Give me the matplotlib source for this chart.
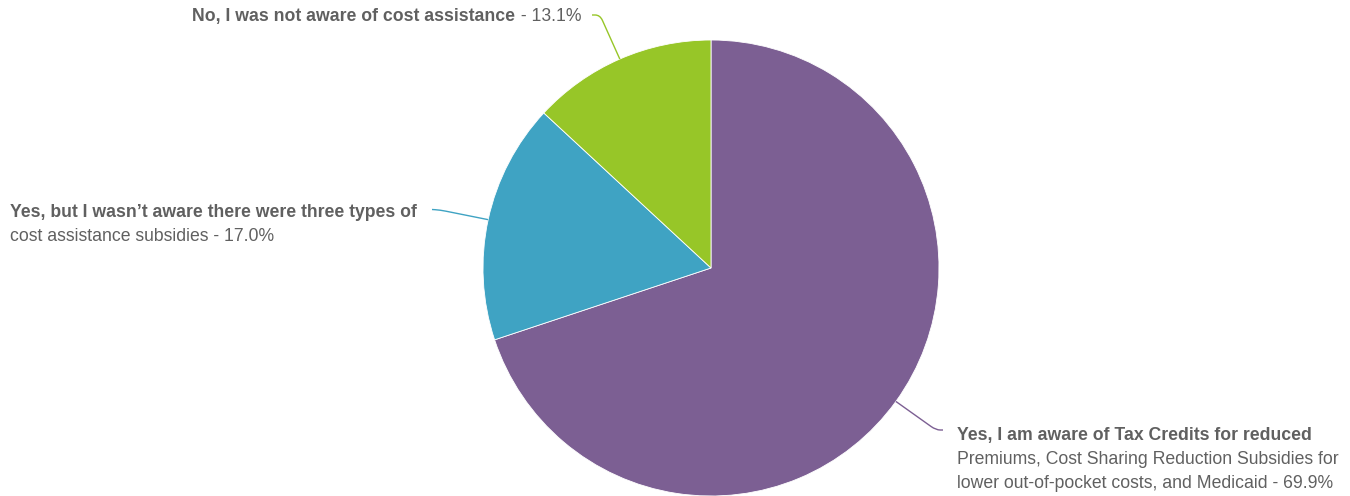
import matplotlib

matplotlib.use("Agg")
import matplotlib.pyplot as plt
import numpy as np
from matplotlib.path import Path
from matplotlib.patches import PathPatch

W, H = 1350, 496

# survey answers, clockwise from 12 o'clock
shares = [69.9, 17.0, 13.1]
colors = ["#7c5f93", "#3fa3c3", "#97c628"]
bold_parts = [
    "Yes, I am aware of Tax Credits for reduced",
    "Yes, but I wasn\u2019t aware there were three types of",
    "No, I was not aware of cost assistance",
]
plain_parts = [
    "Premiums, Cost Sharing Reduction Subsidies for\nlower out-of-pocket costs, and Medicaid - 69.9%",
    "cost assistance subsidies - 17.0%",
    " - 13.1%",
]

TEXT = "#606060"
FONT = "Liberation Sans"
FS = 12.7
CX, CY, R = 711, 268, 228


def py(y):
    # pixel rows counted from the top
    return H - y


fig = plt.figure(figsize=(W / 100, H / 100), dpi=100)
ax = fig.add_axes([0, 0, 1, 1])

wedges, _ = ax.pie(
    shares,
    colors=colors,
    startangle=90,
    counterclock=False,
    center=(CX, py(CY)),
    radius=R,
    wedgeprops=dict(edgecolor="white", linewidth=0.6),
    frame=True,
)
ax.set_xlim(0, W)
ax.set_ylim(0, H)
ax.axis("off")


def connector(wedge, corner, anchor, color, r=6):
    mid = np.deg2rad((wedge.theta1 + wedge.theta2) / 2)
    e = np.array([CX + R * np.cos(mid), py(CY) + R * np.sin(mid)])
    c = np.array([corner[0], py(corner[1])])
    a = np.array([anchor[0], py(anchor[1])])
    u1 = (c - e) / np.linalg.norm(c - e)
    u2 = (a - c) / np.linalg.norm(a - c)
    verts = [e, c - u1 * r, c, c + u2 * min(r, np.linalg.norm(a - c) * 0.6), a]
    codes = [Path.MOVETO, Path.LINETO, Path.CURVE3, Path.CURVE3, Path.LINETO]
    ax.add_patch(PathPatch(Path(verts, codes), fill=False, edgecolor=color, lw=1.0))


connector(wedges[0], (936, 430), (943, 430), colors[0])
connector(wedges[1], (440, 210), (432, 209.5), colors[1])
connector(wedges[2], (600, 15), (592, 15), colors[2])

# big slice label, lower right
ax.text(957, py(440), bold_parts[0], fontfamily=FONT, fontsize=FS, fontweight="bold",
        color=TEXT, ha="left", va="baseline")
for i, line in enumerate(plain_parts[0].split("\n")):
    ax.text(957, py(464 + 24 * i), line, fontfamily=FONT, fontsize=FS,
            color=TEXT, ha="left", va="baseline")

# middle slice label, left
ax.text(10, py(217), bold_parts[1], fontfamily=FONT, fontsize=FS, fontweight="bold",
        color=TEXT, ha="left", va="baseline")
ax.text(10, py(241), plain_parts[1], fontfamily=FONT, fontsize=FS,
        color=TEXT, ha="left", va="baseline")

# small slice label, top, right aligned against its connector
tail = ax.text(581, py(21), plain_parts[2], fontfamily=FONT, fontsize=FS,
               color=TEXT, ha="right", va="baseline")
ax.annotate(bold_parts[2], xy=(0, 0), xycoords=tail, fontfamily=FONT, fontsize=FS,
            fontweight="bold", color=TEXT, ha="right", va="bottom")

fig.savefig("out.png", dpi=100, facecolor="white")
